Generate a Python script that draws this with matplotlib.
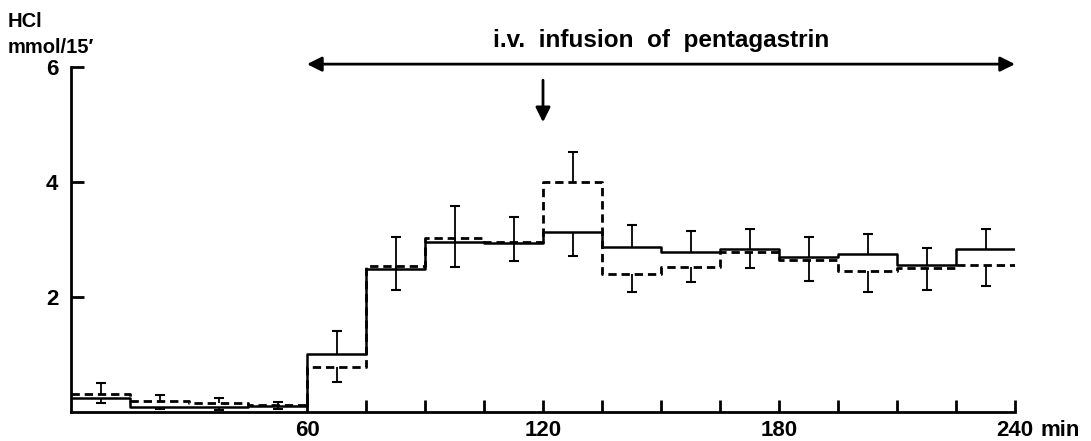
import numpy as np
import matplotlib
matplotlib.use('Agg')
import matplotlib.pyplot as plt

plt.rcParams['font.family'] = ['Liberation Sans', 'DejaVu Sans']
plt.rcParams['font.weight'] = 'bold'
plt.rcParams['lines.scale_dashes'] = False

# 15-minute collection periods, 0-240 min
edges = np.arange(0, 241, 15)
mids = edges[:-1] + 7.5

# HCl output (mmol/15')
solid = [0.24, 0.09, 0.09, 0.10, 1.01, 2.49, 2.95, 2.94,
         3.13, 2.87, 2.78, 2.83, 2.70, 2.74, 2.55, 2.84]
dashed = [0.32, 0.19, 0.15, 0.13, 0.78, 2.54, 3.02, 2.96,
          4.00, 2.40, 2.52, 2.78, 2.64, 2.45, 2.50, 2.56]

# one-sided error bars (SE) as drawn
sol_up = [0, 0, 0, 0, 0.40, 0.56, 0.63, 0.45, 0, 0.38, 0.37, 0.35, 0.35, 0.36, 0.31, 0.34]
sol_dn = [0.09, 0.04, 0.05, 0.04, 0, 0, 0, 0, 0.41, 0, 0, 0, 0, 0, 0, 0]
das_up = [0.18, 0.11, 0.09, 0.05, 0, 0, 0, 0, 0.52, 0, 0, 0, 0, 0, 0, 0]
das_dn = [0, 0, 0, 0, 0.26, 0.42, 0.50, 0.34, 0, 0.31, 0.26, 0.28, 0.37, 0.37, 0.37, 0.36]

xticks = [60, 120, 180, 240]
yticks = [2, 4, 6]

fig = plt.figure(figsize=(10.91, 4.41), dpi=100)
ax = fig.add_axes([71 / 1091, 29 / 441, 944 / 1091, 345 / 441])

# step lines
ax.step(edges, list(solid) + [solid[-1]], where='post', color='k', lw=1.8)
ax.step(edges, list(dashed) + [dashed[-1]], where='post', color='k', lw=2.0,
        dashes=(6, 3.5))


def draw_err(y, up, dn):
    y = np.array(y)
    up = np.array(up)
    dn = np.array(dn)
    ax.vlines(mids, y - dn, y + up, color='k', lw=1.3)
    m = up > 0
    ax.plot(mids[m], (y + up)[m], ls='none', marker='_', ms=6.5, mew=1.5, color='k')
    m = dn > 0
    ax.plot(mids[m], (y - dn)[m], ls='none', marker='_', ms=6.5, mew=1.5, color='k')


draw_err(solid, sol_up, sol_dn)
draw_err(dashed, das_up, das_dn)

ax.set_xlim(0, 240)
ax.set_ylim(0, 6)
for s in ['top', 'right']:
    ax.spines[s].set_visible(False)
for s in ['left', 'bottom']:
    ax.spines[s].set_linewidth(2.0)

ax.set_xticks(xticks)
ax.set_xticklabels(['60', '120', '180', '240'])
ax.set_xticks(np.arange(60, 241, 15), minor=True)
ax.set_yticks(yticks)
ax.tick_params(axis='both', which='both', direction='in', length=9, width=2.0,
               labelsize=16)
ax.tick_params(axis='x', pad=6)
ax.tick_params(axis='y', pad=9)
ax.annotate('min', xy=(240, 0), xytext=(18, -6), textcoords='offset points',
            fontsize=16, fontweight='bold', ha='left', va='top', annotation_clip=False)

# infusion arrow and label
ax.annotate('', xy=(60, 6.05), xytext=(240, 6.05),
            arrowprops=dict(arrowstyle='<|-|>', lw=2.0, color='k', mutation_scale=22,
                            shrinkA=0, shrinkB=0), annotation_clip=False)
ax.annotate('', xy=(120, 5.04), xytext=(120, 5.77),
            arrowprops=dict(arrowstyle='-|>', lw=2.0, color='k', mutation_scale=22,
                            shrinkA=0, shrinkB=0), annotation_clip=False)
ax.text(150, 6.34, 'i.v.  infusion  of  pentagastrin', fontsize=17.5, fontweight='bold',
        ha='center', va='baseline', clip_on=False)

fig.text(8 / 1091, 1 - 27 / 441, 'HCl', fontsize=14.5, fontweight='bold', ha='left', va='baseline')
fig.text(8 / 1091, 1 - 53 / 441, 'mmol/15\u2032', fontsize=14.5, fontweight='bold', ha='left',
         va='baseline')

fig.savefig('out.png', dpi=100)
